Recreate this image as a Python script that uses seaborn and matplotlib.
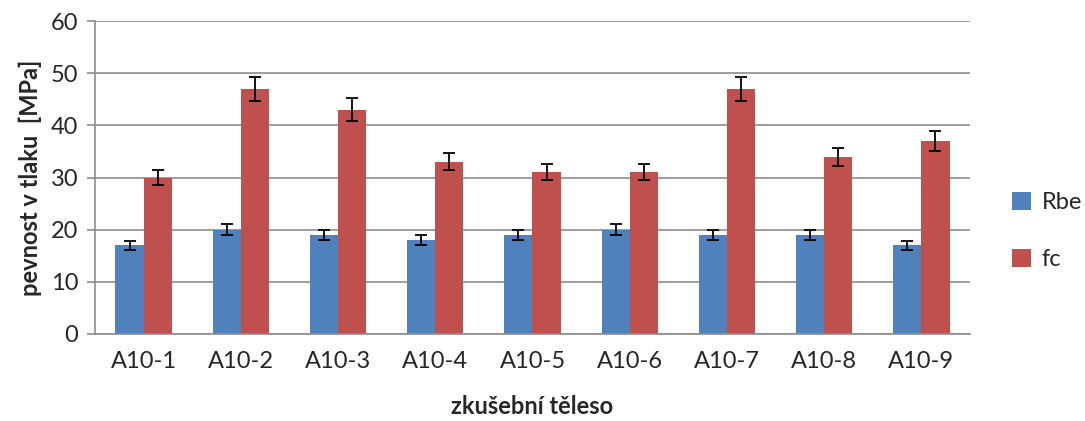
import matplotlib
matplotlib.use("Agg")
import matplotlib.pyplot as plt
import seaborn as sns
import pandas as pd
from matplotlib.patches import Patch

categories = ["A10-1", "A10-2", "A10-3", "A10-4", "A10-5", "A10-6", "A10-7", "A10-8", "A10-9"]
rbe = [17, 20, 19, 18, 19, 20, 19, 19, 17]
fc = [30, 47, 43, 33, 31, 31, 47, 34, 37]
rbe_err = [0.85, 1.0, 0.95, 0.9, 0.95, 1.0, 0.95, 0.95, 0.85]
fc_err = [1.5, 2.35, 2.15, 1.65, 1.55, 1.55, 2.35, 1.7, 1.85]
series = ["Rbe", "fc"]
colors = ["#4F81BD", "#C0504D"]

df = pd.DataFrame({
    "cat": categories * 2,
    "val": rbe + fc,
    "err": rbe_err + fc_err,
    "series": [series[0]] * len(categories) + [series[1]] * len(categories),
})

sns.set_theme(style="white")
plt.rcParams["font.family"] = ["Lato", "DejaVu Sans"]

fig = plt.figure(figsize=(10.85, 4.21), dpi=100)
ax = fig.add_axes([95 / 1085, 1 - 334 / 421, 875 / 1085, 313 / 421])

sns.barplot(data=df, x="cat", y="val", hue="series", palette=colors,
            width=0.58, errorbar=None, ax=ax, legend=False, saturation=1,
            edgecolor="none")

# error bars
for container, errs, vals in zip(ax.containers, [rbe_err, fc_err], [rbe, fc]):
    xs = [p.get_x() + p.get_width() / 2 for p in container.patches]
    ax.errorbar(xs, vals, yerr=errs, fmt="none", ecolor="black",
                elinewidth=1.3, capsize=4, capthick=1.3, zorder=5)

ax.set_ylim(0, 60)
ax.set_xlim(-0.5, len(categories) - 0.5)
ax.set_yticks(range(0, 61, 10))
ax.yaxis.grid(True, color="#8c8c8c", linewidth=1.2)
ax.set_axisbelow(True)
for s in ["top", "right"]:
    ax.spines[s].set_visible(False)
for s in ["left", "bottom"]:
    ax.spines[s].set_color("#8c8c8c")
    ax.spines[s].set_linewidth(1.2)

# category separator ticks
ax.set_xticks(range(len(categories)))
ax.set_xticklabels(categories, fontsize=17)
ax.tick_params(axis="x", length=0, pad=12)
ax.set_xticks([i - 0.5 for i in range(len(categories) + 1)], minor=True)
ax.tick_params(axis="x", which="minor", length=6, color="#8c8c8c", width=1.2)
ax.tick_params(axis="y", length=6, color="#8c8c8c", width=1.2, labelsize=17, pad=6)
ax.tick_params(axis="both", direction="out", bottom=True, left=True)
ax.tick_params(axis="x", which="major", bottom=False)

ax.set_xlabel("zkušební těleso", fontsize=17, fontweight="bold", labelpad=17)
ax.set_ylabel("pevnost v tlaku  [MPa]", fontsize=17, fontweight="bold", labelpad=6)

handles = [Patch(facecolor=c, edgecolor="none") for c in colors]
fig.legend(handles, series, loc="center left", bbox_to_anchor=(991 / 1085, 1 - 231 / 421),
           frameon=False, fontsize=17, handlelength=0.8, handleheight=0.8,
           labelspacing=1.5, handletextpad=0.45)

fig.savefig("out.png", dpi=100)
